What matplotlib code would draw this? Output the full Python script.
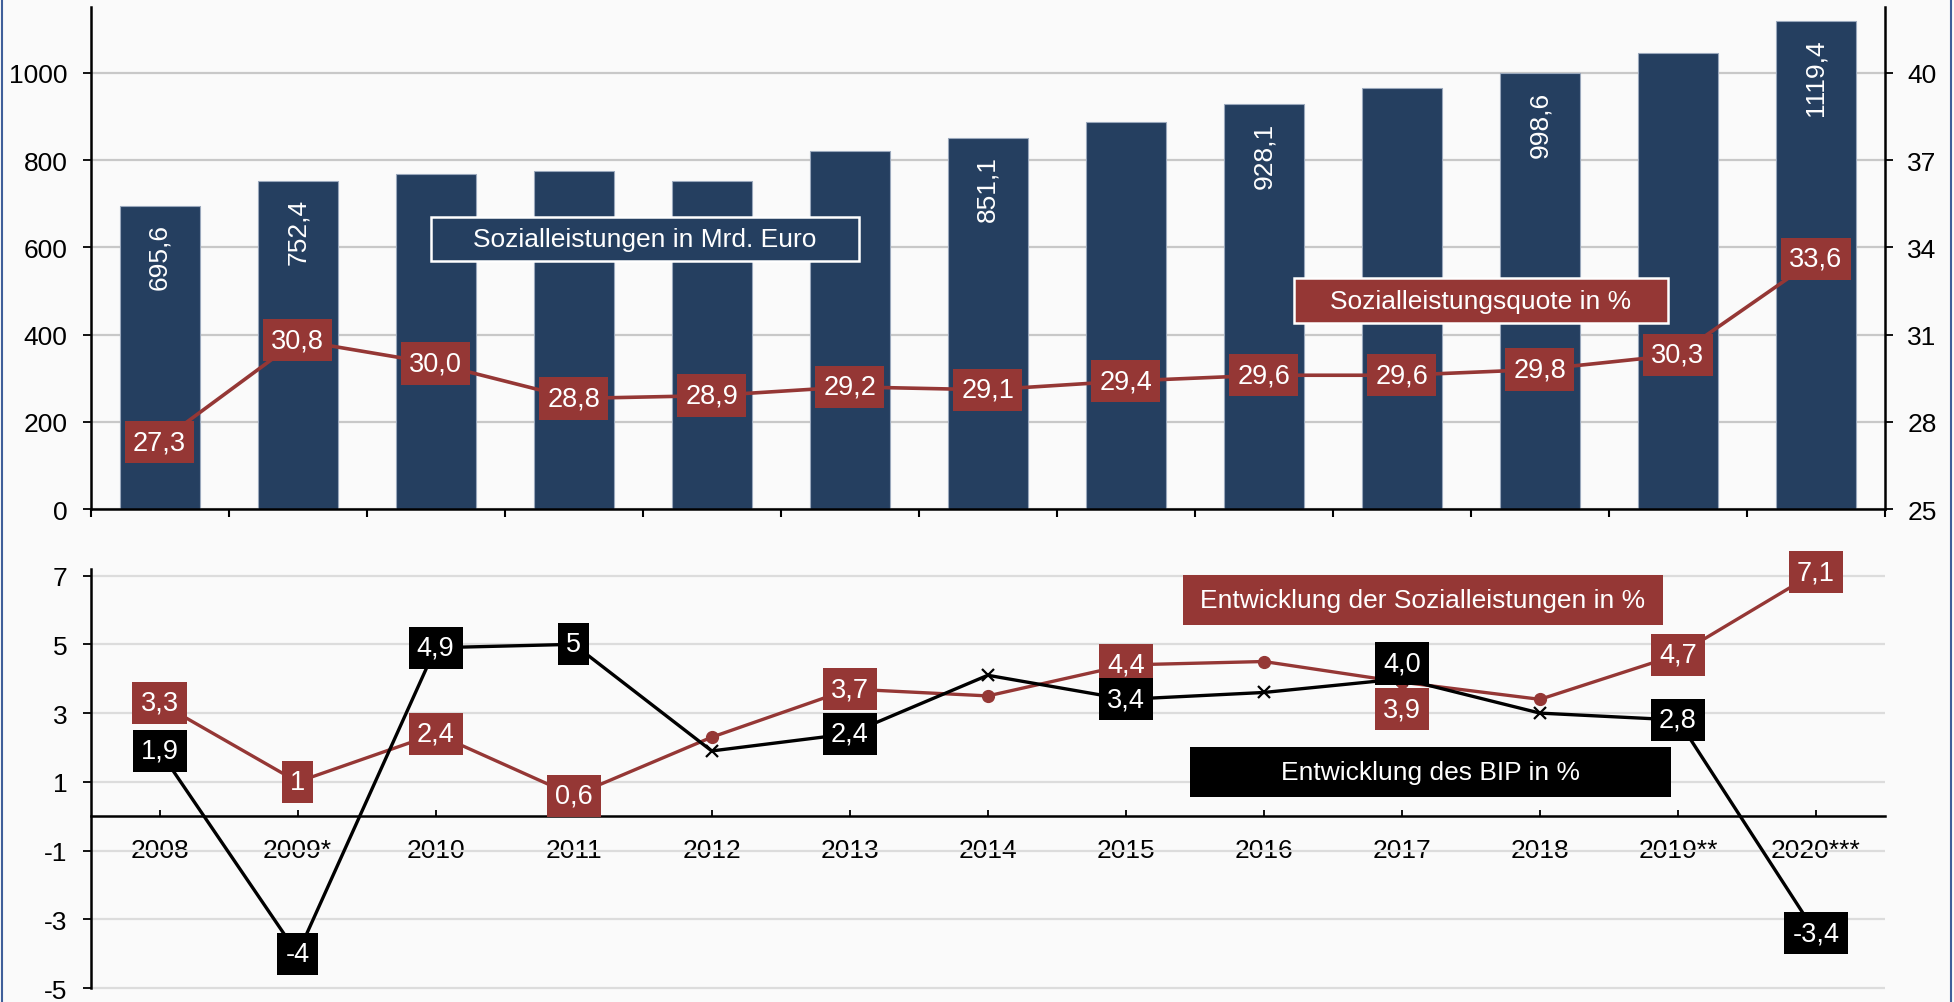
import matplotlib
matplotlib.use("Agg")
import matplotlib.pyplot as plt
from matplotlib.patches import Rectangle

plt.rcParams['font.family'] = ['Liberation Sans', 'DejaVu Sans']
plt.rcParams['axes.unicode_minus'] = False

# Daten
jahre = ["2008", "2009*", "2010", "2011", "2012", "2013", "2014", "2015",
         "2016", "2017", "2018", "2019**", "2020***"]
sozialleistungen = [695.6, 752.4, 769.0, 774.4, 752.8, 821.0, 851.1, 888.2,
                    928.1, 965.6, 998.6, 1045.4, 1119.4]
balken_beschriftet = [True, True, False, False, False, False, True, False,
                      True, False, True, False, True]
quote = [27.3, 30.8, 30.0, 28.8, 28.9, 29.2, 29.1, 29.4, 29.6, 29.6, 29.8, 30.3, 33.6]
entw_sozial = [3.3, 1.0, 2.4, 0.6, 2.3, 3.7, 3.5, 4.4, 4.5, 3.9, 3.4, 4.7, 7.1]
entw_sozial_text = ["3,3", "1", "2,4", "0,6", None, "3,7", None, "4,4", None,
                    "3,9", None, "4,7", "7,1"]
entw_bip = [1.9, -4.0, 4.9, 5.0, 1.9, 2.4, 4.1, 3.4, 3.6, 4.0, 3.0, 2.8, -3.4]
entw_bip_text = ["1,9", "-4", "4,9", "5", None, "2,4", None, "3,4", None,
                 "4,0", None, "2,8", "-3,4"]

# Farben
hintergrund = "#FAFAFA"
blau = "#253F60"
rot = "#953735"
schwarz = "#000000"

W, H = 1954, 1003
fig = plt.figure(figsize=(W / 100, H / 100), dpi=100, facecolor=hintergrund)

x = list(range(len(jahre)))
grenzen = [i - 0.5 for i in range(len(jahre) + 1)]

# ---------- oberes Diagramm ----------
ax1 = fig.add_axes([90.6 / W, 1 - 510 / H, (1885 - 90.6) / W, (510 - 8.4) / H])
ax1.set_facecolor(hintergrund)
ax1.bar(x, sozialleistungen, width=0.58, color=blau, edgecolor="#9AA8BC", linewidth=0.8, zorder=2)
ax1.set_xlim(-0.5, len(jahre) - 0.5)
ax1.set_ylim(0, 1150)
ax1.set_yticks(range(0, 1001, 200))
ax1.set_axisbelow(True)
ax1.yaxis.grid(True, color="#C8C8C8", linewidth=1.6)
ax1.set_xticks(grenzen)
ax1.set_xticklabels([])
ax1.tick_params(axis="x", direction="out", length=5.5, width=1.5)
ax1.tick_params(axis="y", direction="out", length=6, width=1.3, labelsize=19, pad=10.5)
for s in ["top", "right"]:
    ax1.spines[s].set_visible(False)
for s in ["left", "bottom"]:
    ax1.spines[s].set_linewidth(1.8)

for i, v in enumerate(sozialleistungen):
    if balken_beschriftet[i]:
        ax1.annotate(f"{v:.1f}".replace(".", ","), (i, v), xytext=(0, -12.5),
                     textcoords="offset points", rotation=90, ha="center", va="top",
                     color="white", fontsize=19, zorder=3)

ax1b = ax1.twinx()
ax1b.set_ylim(25, 25 + 1150 * 0.015)
ax1b.set_yticks([25, 28, 31, 34, 37, 40])
ax1b.tick_params(axis="y", direction="out", length=6, width=1.3, labelsize=19, pad=10)
for s in ["top", "left", "bottom"]:
    ax1b.spines[s].set_visible(False)
ax1b.spines["right"].set_linewidth(1.8)
ax1b.plot(x, quote, color=rot, linewidth=2.6, zorder=3)
for i, v in enumerate(quote):
    ax1b.annotate(f"{v:.1f}".replace(".", ","), (i, v), ha="center", va="center",
                  color="white", fontsize=19.5,
                  bbox=dict(boxstyle="square,pad=0.3", facecolor=rot, edgecolor="none"),
                  zorder=4)

# ---------- unteres Diagramm ----------
ax2 = fig.add_axes([90.6 / W, 0, (1885 - 90.6) / W, 433 / H])
ax2.set_facecolor(hintergrund)
ax2.set_xlim(-0.5, len(jahre) - 0.5)
ax2.set_ylim(-5.4, 7.19)
ax2.set_yticks([-5, -3, -1, 1, 3, 5, 7])
ax2.set_axisbelow(True)
ax2.yaxis.grid(True, color="#DCDCDC", linewidth=1.6)
ax2.set_xticks(x)
ax2.set_xticklabels(jahre)
ax2.spines["bottom"].set_position(("data", 0))
ax2.spines["left"].set_bounds(-5, 7.19)
for s in ["top", "right"]:
    ax2.spines[s].set_visible(False)
for s in ["left", "bottom"]:
    ax2.spines[s].set_linewidth(1.8)
ax2.tick_params(axis="x", direction="in", length=4, width=1.3, labelsize=19, pad=15.5)
ax2.tick_params(axis="y", direction="out", length=6, width=1.3, labelsize=19, pad=10.5)

ax2.plot(x, entw_sozial, color=rot, linewidth=2.4, marker="o", markersize=8.5, zorder=3)
ax2.plot(x, entw_bip, color=schwarz, linewidth=2.4, marker="x", markersize=9,
         markeredgewidth=1.6, zorder=3)

# Versatz der Beschriftungen 2017 (in Punkten)
versatz_sozial = {9: -19.5}
versatz_bip = {9: 11}

for i, (v, t) in enumerate(zip(entw_sozial, entw_sozial_text)):
    if t:
        ax2.annotate(t, (i, v), xytext=(0, versatz_sozial.get(i, 0)), textcoords="offset points",
                     ha="center", va="center", color="white", fontsize=19.5,
                     bbox=dict(boxstyle="square,pad=0.3", facecolor=rot, edgecolor="none"),
                     zorder=4)
for i, (v, t) in enumerate(zip(entw_bip, entw_bip_text)):
    if t:
        ax2.annotate(t, (i, v), xytext=(0, versatz_bip.get(i, 0)), textcoords="offset points",
                     ha="center", va="center", color="white", fontsize=19.5,
                     bbox=dict(boxstyle="square,pad=0.3", facecolor=schwarz, edgecolor="none"),
                     zorder=5)


# ---------- Legendenkästen ----------
def kasten(x0, y0, x1, y1, farbe, text, rand):
    rect = Rectangle((x0 / W, 1 - y1 / H), (x1 - x0) / W, (y1 - y0) / H,
                     transform=fig.transFigure, facecolor=farbe,
                     edgecolor="white" if rand else farbe, linewidth=1.8 if rand else 0,
                     zorder=10)
    fig.patches.append(rect)
    fig.text((x0 + x1) / 2 / W, 1 - (y0 + y1) / 2 / H, text, color="white",
             fontsize=19, ha="center", va="center", zorder=11)


kasten(431, 218, 859, 262, blau, "Sozialleistungen in Mrd. Euro", True)
kasten(1294, 279, 1668, 324, rot, "Sozialleistungsquote in %", True)
kasten(1183, 576, 1663, 626, rot, "Entwicklung der Sozialleistungen in %", False)
kasten(1190, 748, 1671, 798, schwarz, "Entwicklung des BIP in %", False)

# Rahmen links und rechts
for xr in [1.5, W - 3]:
    fig.add_artist(plt.Line2D([xr / W, xr / W], [0, 1], transform=fig.transFigure,
                              color="#3F5F9A", linewidth=1.5))

fig.savefig("out.png", dpi=100, facecolor=hintergrund)
